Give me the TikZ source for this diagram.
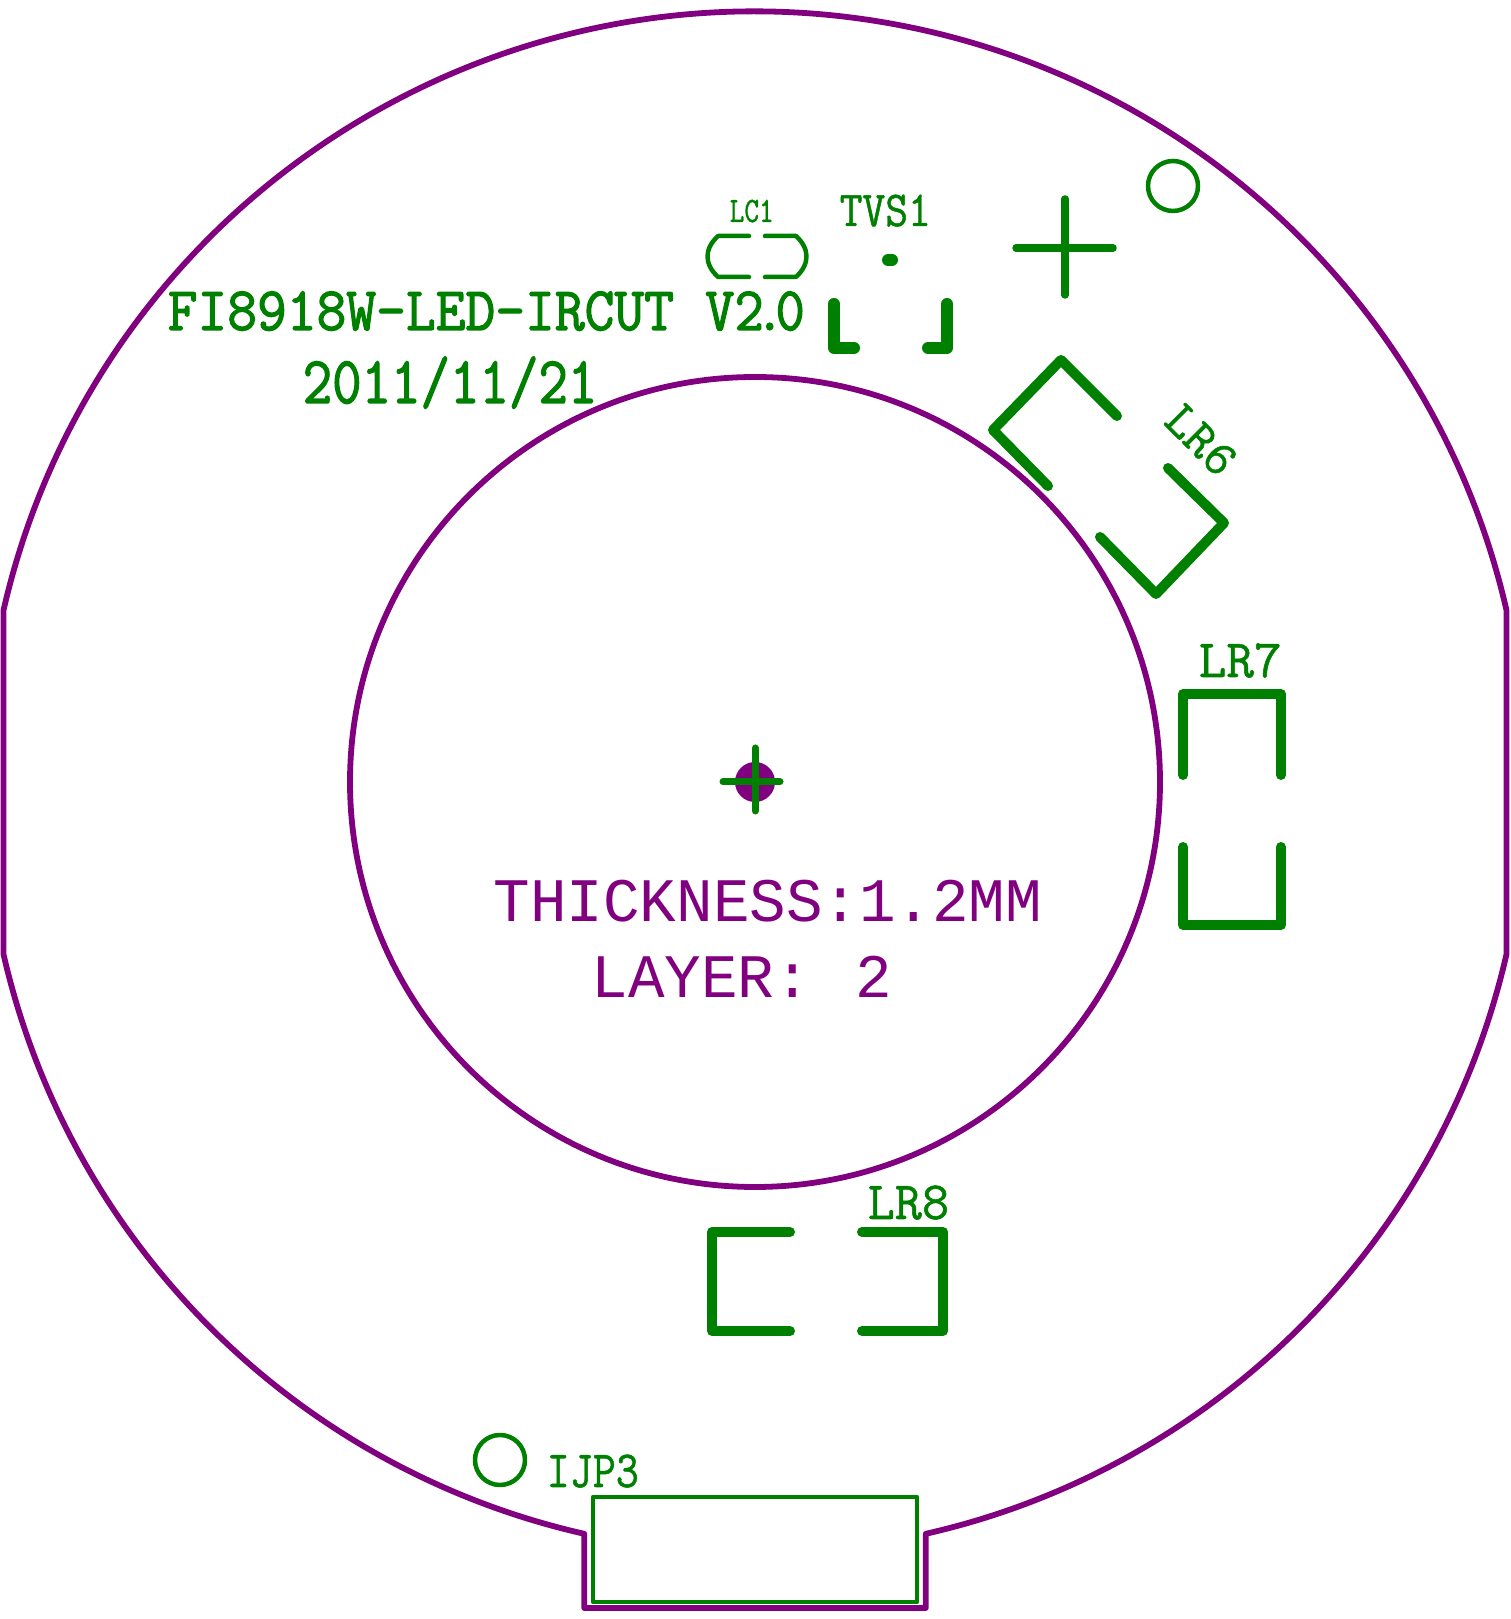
\documentclass[tikz,border=0pt]{standalone}
\usepackage{fontspec}
\usepackage{pgf,tikz}
\usepackage{tkz-euclide}
\usepackage{xcolor}
\usetikzlibrary{arrows, calc}
\newfontfamily\fabfont{Liberation Mono}
\newfontfamily\silkfont[FakeBold=2]{Latin Modern Mono}
\newfontfamily\silkthin[FakeBold=1]{Latin Modern Mono}
\definecolor{silkgreen}{RGB}{0,128,0}
\definecolor{fabpurple}{RGB}{128,0,128}
\tikzset{
    board/.style={draw=fabpurple, line width=.058cm, line join=round, line cap=round},
    pad/.style={draw=silkgreen, line width=.1cm, line join=round, line cap=round},
    silk/.style={draw=silkgreen, line width=.045cm, line join=round, line cap=round},
    silklabel/.style={text=silkgreen, inner sep=0pt, anchor=base west, font=\silkthin},
    fablabel/.style={text=fabpurple, inner sep=0pt, anchor=base west, font=\fabfont\fontsize{17.6}{18}\selectfont}
}
\begin{document}
\begin{tikzpicture}
    \useasboundingbox (0,0) rectangle (15.11,16.19);
    \tkzDefPoint(7.55,8.37){o_1}
    \tkzDefPoint(5.93,1.22){j_1}
    \tkzDefPoint(9.17,1.22){j_2}
    \tkzDefPoint(9.17,0.17){j_3}
    \tkzDefPoint(5.93,0.17){j_4}
    \tkzDefPoint(11.73,14.33){h_1}
    \tkzDefPoint(5.00,1.59){h_2}
    \tkzDefPoint(7.23,8.37){m_1}
    \tkzDefPoint(7.80,8.37){m_2}
    \tkzDefPoint(7.55,8.71){m_3}
    \tkzDefPoint(7.55,8.08){m_4}
    \tkzDefPoint(10.16,13.71){p_1}
    \tkzDefPoint(11.13,13.71){p_2}
    \tkzDefPoint(10.65,14.20){p_3}
    \tkzDefPoint(10.65,13.24){p_4}
    \tkzDefPoint(8.88,13.59){t_1}
    \tkzDefPoint(8.92,13.59){t_2}
    \tkzDefPoint(8.34,13.15){t_3}
    \tkzDefPoint(8.34,12.71){t_4}
    \tkzDefPoint(8.54,12.71){t_5}
    \tkzDefPoint(9.47,13.15){t_6}
    \tkzDefPoint(9.47,12.71){t_7}
    \tkzDefPoint(9.28,12.71){t_8}
    \tkzDefPoint(11.17,12.03){r_1}
    \tkzDefPoint(10.61,12.59){r_2}
    \tkzDefPoint(9.93,11.89){r_3}
    \tkzDefPoint(10.48,11.33){r_4}
    \tkzDefPoint(11.68,11.51){r_5}
    \tkzDefPoint(12.24,10.96){r_6}
    \tkzDefPoint(11.56,10.25){r_7}
    \tkzDefPoint(11.00,10.82){r_8}
    \tkzDefPoint(11.83,8.44){s_1}
    \tkzDefPoint(11.83,9.25){s_2}
    \tkzDefPoint(12.81,9.25){s_3}
    \tkzDefPoint(12.81,8.44){s_4}
    \tkzDefPoint(11.83,7.72){s_5}
    \tkzDefPoint(11.83,6.94){s_6}
    \tkzDefPoint(12.81,6.94){s_7}
    \tkzDefPoint(12.81,7.72){s_8}
    \tkzDefPoint(7.90,3.87){u_1}
    \tkzDefPoint(7.12,3.87){u_2}
    \tkzDefPoint(7.12,2.88){u_3}
    \tkzDefPoint(7.90,2.88){u_4}
    \tkzDefPoint(8.62,3.87){u_5}
    \tkzDefPoint(9.43,3.87){u_6}
    \tkzDefPoint(9.43,2.88){u_7}
    \tkzDefPoint(8.62,2.88){u_8}
    \draw[board] (5.842,0.852) arc[start angle=257.2, end angle=192.9, radius=7.71]
        -- ++(0,3.437) arc[start angle=167.1, end angle=12.9, radius=7.71]
        -- ++(0,-3.437) arc[start angle=-12.9, end angle=-77.2, radius=7.71]
        -- (9.258,0.11) -- (5.842,0.11) -- cycle;
    \draw[board] (o_1) circle (4.05);
    \fill[fabpurple] (o_1) circle (.2);
    \draw[silk] (j_1) -- (j_2) -- (j_3) -- (j_4) -- cycle;
    \draw[silk] (h_1) circle (.25);
    \draw[silk] (h_2) circle (.25);
    \draw[silk] (7.49,13.83) -- (7.18,13.83) .. controls (7.04,13.70) and (7.04,13.55) .. (7.18,13.42) -- (7.49,13.42);
    \draw[silk] (7.65,13.83) -- (7.96,13.83) .. controls (8.10,13.70) and (8.10,13.55) .. (7.96,13.42) -- (7.65,13.42);
    \tkzDrawSegments[draw=silkgreen, line width=.07cm, line cap=round](m_1,m_2 m_3,m_4)
    \tkzDrawSegments[draw=silkgreen, line width=.075cm, line cap=round](p_1,p_2 p_3,p_4)
    \tkzDrawSegments[draw=silkgreen, line width=.12cm, line cap=round](t_1,t_2)
    \draw[pad, line width=.12cm] (t_3) -- (t_4) -- (t_5);
    \draw[pad, line width=.12cm] (t_6) -- (t_7) -- (t_8);
    \draw[pad] (r_1) -- (r_2) -- (r_3) -- (r_4);
    \draw[pad] (r_5) -- (r_6) -- (r_7) -- (r_8);
    \draw[pad] (s_1) -- (s_2) -- (s_3) -- (s_4);
    \draw[pad] (s_5) -- (s_6) -- (s_7) -- (s_8);
    \draw[pad] (u_1) -- (u_2) -- (u_3) -- (u_4);
    \draw[pad] (u_5) -- (u_6) -- (u_7) -- (u_8);
    \node[silklabel, font=\silkfont] (title) at (1.67,12.89) {\fontsize{17.6}{18}\selectfont\scalebox{.935}[1]{FI8918W-LED-IRCUT}};
    \node[silklabel, font=\silkfont] (version) at (7.045,12.89) {\fontsize{17.6}{18}\selectfont\scalebox{.92}[1]{V2\kern-.155em.\kern-.155em0}};
    \node[silklabel, font=\silkfont] (date) at (3.02,12.16) {\fontsize{17.6}{18}\selectfont\scalebox{.925}[1.08]{2011/11/21}};
    \node[silklabel] (lc1) at (7.29,13.97) {\fontsize{10.2}{11}\selectfont\scalebox{.78}[1]{LC1}};
    \node[silklabel] (tvs1) at (8.39,13.93) {\fontsize{14.3}{15}\selectfont\scalebox{.88}[1]{TVS1}};
    \node[silklabel, rotate=-45, anchor=center] (lr6) at (12.01,11.79) {\fontsize{14.3}{15}\selectfont\scalebox{1.02}[1]{LR6}};
    \node[silklabel] (lr7) at (11.98,9.42) {\fontsize{15.3}{16}\selectfont\scalebox{1.0}[1]{LR7}};
    \node[silklabel] (lr8) at (8.67,4.00) {\fontsize{15.3}{16}\selectfont\scalebox{.98}[1]{LR8}};
    \node[silklabel] (ijp3) at (5.46,1.32) {\fontsize{14.8}{15}\selectfont\scalebox{.86}[1]{IJP3}};
    \node[fablabel] (thick) at (4.93,6.97) {\scalebox{.985}[1]{THICKNESS:1.2MM}};
    \node[fablabel] (layer) at (5.91,6.21) {\scalebox{.985}[1]{LAYER: \kern.13em2}};
\end{tikzpicture}
\end{document}
